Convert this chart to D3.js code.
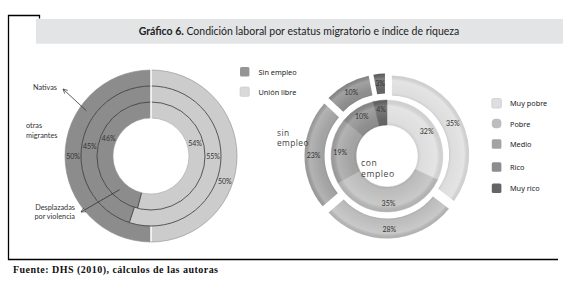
<!DOCTYPE html>
<html><head><meta charset="utf-8">
<script src="https://cdn.jsdelivr.net/npm/d3@7"></script>
<style>body{margin:0;background:#fff}svg{display:block}</style>
</head><body>
<svg id="c" width="568" height="285"></svg>
<script>
// ---- data ----
const title1 = "Gráfico 6.";
const title2 = " Condición laboral por estatus migratorio e índice de riqueza";
const sourceBold = "Fuente:";
const sourceRest = " DHS (2010), cálculos de las autoras";
const leftLegend = ["Sin empleo", "Unión libre"];
const leftRings = ["Desplazadas por violencia", "otras migrantes", "Nativas"]; // inner -> outer
const sinEmpleo = [46, 45, 50];
const unionLibre = [54, 55, 50];
const wealthCats = ["Muy pobre", "Pobre", "Medio", "Rico", "Muy rico"];
const conEmpleoW = [32, 35, 19, 10, 4];
const sinEmpleoW = [35, 28, 23, 10, 3];
const rightRingNames = ["con empleo", "sin empleo"];

// ---- drawing ----
const svg = d3.select("#c");
const defs = svg.append("defs");
defs.append("marker").attr("id", "arr").attr("viewBox", "0 0 10 10")
  .attr("refX", 9).attr("refY", 5).attr("markerWidth", 7).attr("markerHeight", 7)
  .attr("orient", "auto-start-reverse").append("path")
  .attr("d", "M1,1 L9,5 L1,9").attr("fill", "none").attr("stroke", "#333").attr("stroke-width", 1.2);

// frame
svg.append("path").attr("d", "M39.5,18.5 V15.5 H8.5 V259.5 H558")
  .attr("fill", "none").attr("stroke", "#000").attr("stroke-width", 1.3);
svg.append("rect").attr("x", 36).attr("y", 19).attr("width", 527).attr("height", 24.7).attr("fill", "#e3e4e5");
const tt = svg.append("text").attr("x", 299).attr("y", 35).attr("text-anchor", "middle")
  .attr("font-family", "Lato, 'Open Sans', sans-serif").attr("font-size", 10.5).attr("fill", "#222");
tt.append("tspan").attr("font-weight", "bold").text(title1);
tt.append("tspan").text(title2);

const st = svg.append("text").attr("x", 13).attr("y", 272.5)
  .attr("font-family", "'Liberation Serif', 'DejaVu Serif', serif").attr("font-size", 10)
  .attr("font-weight", "bold").attr("fill", "#111")
  .attr("textLength", 205).attr("lengthAdjust", "spacing");
st.append("tspan").text(sourceBold);
st.append("tspan").text(sourceRest);

const lblFont = "Lato, 'Open Sans', sans-serif";
const deg = Math.PI / 180;
function polar(cx, cy, r, a) { return [cx + r * Math.sin(a), cy - r * Math.cos(a)]; }

// shading gradient for rings (bevel look)
function ringShade(id, cx, cy, r0, r1) {
  const g = defs.append("radialGradient").attr("id", id).attr("gradientUnits", "userSpaceOnUse")
    .attr("cx", cx).attr("cy", cy).attr("r", r1);
  const f = r0 / r1;
  g.append("stop").attr("offset", f).attr("stop-color", "#000").attr("stop-opacity", 0.08);
  g.append("stop").attr("offset", f + (1 - f) * 0.2).attr("stop-color", "#fff").attr("stop-opacity", 0.0);
  g.append("stop").attr("offset", f + (1 - f) * 0.75).attr("stop-color", "#fff").attr("stop-opacity", 0.18);
  g.append("stop").attr("offset", 1).attr("stop-color", "#000").attr("stop-opacity", 0.06);
}

// ---- left donut ----
const L = { cx: 151, cy: 156 };
const ringR = [[38, 54], [54, 70], [70, 86]];
const leftColors = { "Unión libre": "#d9d9d9", "Sin empleo": "#959595" };
const pieL = d3.pie().sort(null).value(d => d.v);
const gL = svg.append("g").attr("transform", `translate(${L.cx},${L.cy})`);
// label angle nudges (degrees) per ring: [light, dark]
const nudge = [[-24, 16], [-9, 0], [19, 0]];
const labelLayer = [];
leftRings.forEach((name, i) => {
  const data = [{ k: "Unión libre", v: unionLibre[i] }, { k: "Sin empleo", v: sinEmpleo[i] }];
  const arcs = pieL(data);
  const arc = d3.arc().innerRadius(ringR[i][0]).outerRadius(ringR[i][1]);
  gL.selectAll(null).data(arcs).enter().append("path")
    .attr("d", arc).attr("fill", d => leftColors[d.data.k]);
  ringShade("shL" + i, L.cx, L.cy, ringR[i][0], ringR[i][1]);
  gL.append("path")
    .attr("d", d3.arc().innerRadius(ringR[i][0]).outerRadius(ringR[i][1]).startAngle(0).endAngle(2 * Math.PI)())
    .attr("fill", `url(#shL${i})`);
  // slice boundary at the bottom (dark line except outer ring which has a white gap)
  const b = arcs[0].endAngle;
  const p0 = polar(0, 0, ringR[i][0], b), p1 = polar(0, 0, ringR[i][1], b);
  gL.append("line").attr("x1", p0[0]).attr("y1", p0[1]).attr("x2", p1[0]).attr("y2", p1[1])
    .attr("stroke", i === 2 ? "#fff" : "#2e2e2e").attr("stroke-width", i === 2 ? 1.5 : 0.8);
  const rm = (ringR[i][0] + ringR[i][1]) / 2;
  arcs.forEach((d, j) => {
    const a = (d.startAngle + d.endAngle) / 2 + nudge[i][j] * deg;
    labelLayer.push([polar(L.cx, L.cy, rm, a), d.data.v + "%"]);
  });
});
// ring separators
[54, 70].forEach(r => {
  gL.append("circle").attr("r", r).attr("fill", "none").attr("stroke", "#333").attr("stroke-width", 0.8);
});
gL.append("circle").attr("r", 86).attr("fill", "none").attr("stroke", "#8a8a8a").attr("stroke-width", 0.6);
gL.append("circle").attr("r", 38).attr("fill", "none").attr("stroke", "#9a9a9a").attr("stroke-width", 0.5);
// top white divider
gL.append("line").attr("x1", 0).attr("x2", 0).attr("y1", -87).attr("y2", -37)
  .attr("stroke", "#fff").attr("stroke-width", 1.5);
labelLayer.forEach(([p, t]) => {
  svg.append("text").attr("x", p[0]).attr("y", p[1]).attr("text-anchor", "middle")
    .attr("dominant-baseline", "central").attr("font-family", lblFont).attr("font-size", 7)
    .attr("fill", "#333").text(t);
});

// ring name annotations
function ann(x, y, txt, anchor) {
  svg.append("text").attr("x", x).attr("y", y).attr("text-anchor", anchor || "start")
    .attr("dominant-baseline", "central").attr("font-family", lblFont).attr("font-size", 7.3)
    .attr("fill", "#333").text(txt);
}
ann(33, 87, leftRings[2]);
ann(26, 125, leftRings[1].split(" ")[0]);
ann(26, 135, leftRings[1].split(" ")[1]);
ann(75, 207.5, leftRings[0].split(" ")[0], "end");
ann(75, 216.5, leftRings[0].split(" ").slice(1).join(" "), "end");
// arrows
const pN = polar(L.cx, L.cy, 79, 305 * deg);
svg.append("line").attr("x1", pN[0]).attr("y1", pN[1]).attr("x2", 63).attr("y2", 89)
  .attr("stroke", "#333").attr("stroke-width", 0.8).attr("marker-end", "url(#arr)");
const pD = polar(L.cx, L.cy, 46, 223 * deg);
svg.append("line").attr("x1", pD[0]).attr("y1", pD[1]).attr("x2", 81).attr("y2", 212)
  .attr("stroke", "#333").attr("stroke-width", 0.8).attr("marker-end", "url(#arr)");

// left legend
const legFont = "'Noto Sans', 'Open Sans', sans-serif";
leftLegend.forEach((k, i) => {
  const y = 71.7 + i * 20;
  svg.append("rect").attr("x", 240).attr("y", y - 4.7).attr("width", 9.4).attr("height", 9.4).attr("rx", 1.5)
    .attr("fill", leftColors[k]).attr("stroke", i ? "#c8c8c8" : "none").attr("stroke-width", 0.6);
  svg.append("text").attr("x", 258.5).attr("y", y).attr("dominant-baseline", "central")
    .attr("font-family", legFont).attr("font-size", 7.3).attr("fill", "#222").text(k);
});

// ---- right donut ----
const R = { cx: 387, cy: 156 };
const wColors = ["#dedede", "#bdbdbd", "#a3a3a3", "#8d8d8d", "#646464"];
const cScale = d3.scaleOrdinal().domain(wealthCats).range(wColors);
const pieR = d3.pie().sort(null).value(d => d.v);
const gR = svg.append("g").attr("transform", `translate(${R.cx},${R.cy})`);
const innerArcs = pieR(wealthCats.map((k, i) => ({ k, v: conEmpleoW[i] })));
const outerArcs = pieR(wealthCats.map((k, i) => ({ k, v: sinEmpleoW[i] })));
const arcIn = d3.arc().innerRadius(31).outerRadius(56);
const arcOut = d3.arc().innerRadius(59).outerRadius(79).padAngle(0.035);
const explode = 3.5;
gR.selectAll(null).data(innerArcs).enter().append("path")
  .attr("d", arcIn).attr("fill", d => cScale(d.data.k)).attr("stroke", d => cScale(d.data.k)).attr("stroke-width", 0.5);
ringShade("shRi", 0, 0, 31, 56);
gR.append("path").attr("d", d3.arc().innerRadius(31).outerRadius(56).startAngle(0).endAngle(2 * Math.PI)())
  .attr("fill", "url(#shRi)");
ringShade("shRo", 0, 0, 59, 79);
gR.selectAll(null).data(outerArcs).enter().append("g")
  .attr("transform", d => {
    const a = (d.startAngle + d.endAngle) / 2;
    return `translate(${explode * Math.sin(a)},${-explode * Math.cos(a)})`;
  })
  .each(function (d) {
    const g = d3.select(this);
    g.append("path").attr("d", arcOut(d)).attr("fill", cScale(d.data.k));
    g.append("path").attr("d", arcOut(d)).attr("fill", "url(#shRo)");
  });
innerArcs.forEach(d => {
  const a = (d.startAngle + d.endAngle) / 2;
  const p = polar(R.cx, R.cy, 47, a);
  svg.append("text").attr("x", p[0]).attr("y", p[1]).attr("text-anchor", "middle")
    .attr("dominant-baseline", "central").attr("font-family", lblFont).attr("font-size", 7)
    .attr("fill", "#333").text(d.data.v + "%");
});
outerArcs.forEach(d => {
  const a = (d.startAngle + d.endAngle) / 2;
  const p = polar(R.cx, R.cy, 73.5, a);
  svg.append("text").attr("x", p[0]).attr("y", p[1]).attr("text-anchor", "middle")
    .attr("dominant-baseline", "central").attr("font-family", lblFont).attr("font-size", 7)
    .attr("fill", "#333").text(d.data.v + "%");
});
// ring names
const rnFont = "'Open Sans', sans-serif";
const cParts = rightRingNames[0].split(" ");
const sinParts = rightRingNames[1].split(" ");
[[361, 163, cParts[0]], [361, 173.5, cParts[1]]].forEach(([x, y, t]) =>
  svg.append("text").attr("x", x).attr("y", y).attr("dominant-baseline", "central")
    .attr("font-family", rnFont).attr("font-size", 8.6).attr("letter-spacing", 0.6).attr("fill", "#444").text(t));
[[277, 132, sinParts[0]], [277, 142, sinParts[1]]].forEach(([x, y, t]) =>
  svg.append("text").attr("x", x).attr("y", y).attr("dominant-baseline", "central")
    .attr("font-family", rnFont).attr("font-size", 8.4).attr("letter-spacing", 0.4).attr("fill", "#444").text(t));

// right legend
const legY = [103.3, 123.5, 144, 167, 188.3];
wealthCats.forEach((k, i) => {
  svg.append("rect").attr("x", 491.8).attr("y", legY[i] - 4.8).attr("width", 9.6).attr("height", 9.6)
    .attr("rx", i === 1 ? 4 : 1.5).attr("fill", cScale(k))
    .attr("stroke", i === 0 ? "#c4c4c4" : "none").attr("stroke-width", 0.6);
  svg.append("text").attr("x", 510).attr("y", legY[i]).attr("dominant-baseline", "central")
    .attr("font-family", legFont).attr("font-size", 7.3).attr("fill", "#222").text(k);
});
</script>
</body></html>
